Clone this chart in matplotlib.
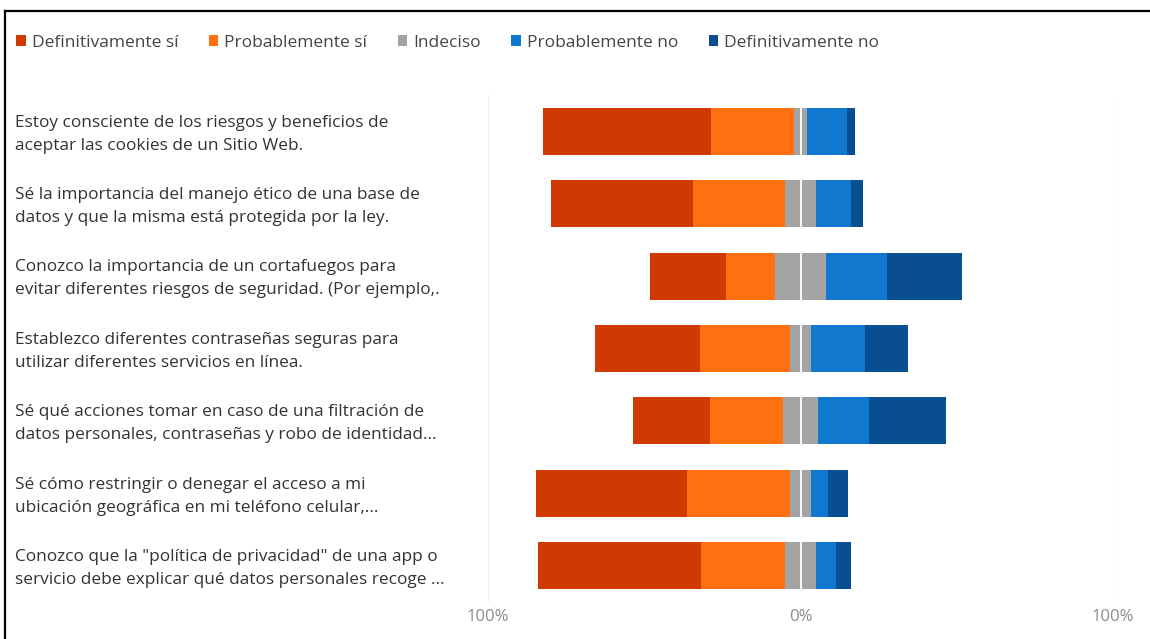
import matplotlib
matplotlib.use("Agg")
import matplotlib.pyplot as plt
from matplotlib.lines import Line2D

plt.rcParams['font.family'] = ['Open Sans', 'DejaVu Sans']

# Survey statements (two display lines each)
statements = [
    "Estoy consciente de los riesgos y beneficios de\naceptar las cookies de un Sitio Web.",
    "Sé la importancia del manejo ético de una base de\ndatos y que la misma está protegida por la ley.",
    "Conozco la importancia de un cortafuegos para\nevitar diferentes riesgos de seguridad. (Por ejemplo,.",
    "Establezco diferentes contraseñas seguras para\nutilizar diferentes servicios en línea.",
    "Sé qué acciones tomar en caso de una filtración de\ndatos personales, contraseñas y robo de identidad...",
    "Sé cómo restringir o denegar el acceso a mi\nubicación geográfica en mi teléfono celular,...",
    "Conozco que la \"política de privacidad\" de una app o\nservicio debe explicar qué datos personales recoge ...",
]

categories = ["Definitivamente sí", "Probablemente sí", "Indeciso",
              "Probablemente no", "Definitivamente no"]

# Percentages of responses per statement
def_si = [54, 45.5, 24.5, 33.5, 24.5, 48.5, 52]
prob_si = [26.5, 29.5, 15.5, 29, 23.5, 33, 27]
indeciso = [4, 10, 16.5, 6.5, 11, 6.5, 10]
prob_no = [13, 11, 19.5, 17.5, 16.5, 5.5, 6.5]
def_no = [2.5, 4, 24, 13.5, 24.5, 6.5, 4.5]

tick_values = [-100, 0, 100]
tick_labels = ["100%", "0%", "100%"]

colors = ["#D03A02", "#FF7010", "#A3A3A3", "#1079CF", "#0A4E92"]

W, H = 1150, 639
fig = plt.figure(figsize=(W / 100, H / 100), dpi=100)
fig.patch.set_facecolor("white")

ax = fig.add_axes([488 / W, 1 - 602 / H, (1113 - 488) / W, (602 - 95) / H])

series = [def_si, prob_si, indeciso, prob_no, def_no]
n = len(statements)
ypos = list(range(n))

# Diverging layout: centre of "Indeciso" sits on zero
starts = [-(def_si[i] + prob_si[i] + indeciso[i] / 2) for i in range(n)]
left = starts[:]
handles = []
for vals, col, name in zip(series, colors, categories):
    b = ax.barh(ypos, vals, left=left, height=0.65, color=col,
                edgecolor="none", label=name, zorder=2)
    handles.append(b)
    left = [l + v for l, v in zip(left, vals)]

ax.axvline(0, color="white", lw=1.3, zorder=3)
for gx in (-100, 100):
    ax.axvline(gx, color="#F0F0F0", lw=1, zorder=1)

ax.set_xlim(-100, 100)
ax.set_ylim(n - 0.5, -0.5)
ax.set_yticks([])
ax.set_xticks(tick_values)
ax.set_xticklabels(tick_labels, color="#8A8A8A", fontsize=12)
ax.tick_params(axis="x", length=0, pad=5)
for s in ax.spines.values():
    s.set_visible(False)

# Statement labels on the left
trans = matplotlib.transforms.blended_transform_factory(fig.transFigure, ax.transData)
for i, txt in enumerate(statements):
    ax.text(15 / W, i + 0.04, txt, transform=trans, ha="left", va="center",
            fontsize=12.4, color="#333333", linespacing=1.58)

# Legend across the top
fig.legend(handles=handles, labels=categories, loc="center left",
           bbox_to_anchor=(0.5 / W, 1 - 43 / H), ncol=5, frameon=False,
           fontsize=12.5, handlelength=0.55, handleheight=0.6, handletextpad=0.35,
           columnspacing=1.75, labelcolor="#444444")

# Frame lines
fig.add_artist(Line2D([5 / W, 1.0], [1 - 11 / H, 1 - 11 / H], color="black",
                      lw=1.6, transform=fig.transFigure))
fig.add_artist(Line2D([5 / W, 5 / W], [1 - 11 / H, 0.0], color="black",
                      lw=1.6, transform=fig.transFigure))

fig.savefig("out.png", dpi=100, facecolor="white")
